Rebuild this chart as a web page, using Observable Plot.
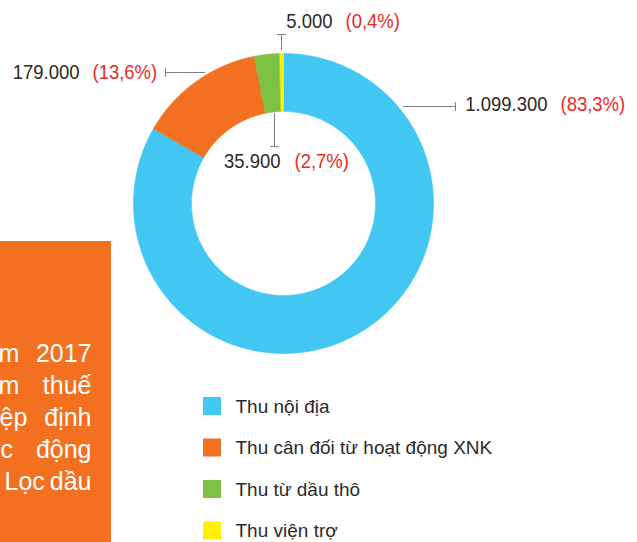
<!DOCTYPE html>
<html>
<head>
<meta charset="utf-8">
<script src="https://cdn.jsdelivr.net/npm/d3@7"></script>
<script src="https://cdn.jsdelivr.net/npm/@observablehq/plot@0.6"></script>
<style>
  html, body { margin: 0; padding: 0; background: #fff; }
  #chart svg { display: block; }
</style>
</head>
<body>
<div id="chart"></div>
<script>
// ---- data ----
const categories = ["Thu nội địa", "Thu cân đối từ hoạt động XNK", "Thu từ dầu thô", "Thu viện trợ"];
const values = [1099300, 179000, 35900, 5000];
const colors = ["#41C7F2", "#F37021", "#7DC142", "#FFF100"];
// side box text (clipped at the left edge of the picture): left fragment + last word of each line
const boxLeft = ["m", "m", "ệp", "c", "Lọc"];
const boxRight = ["2017", "thuế", "định", "động", "dầu"];

// ---- layout ----
const W = 637, H = 542;
const cx = 283, cy = 203, R = 150, r = 92;
const FONT = "'Liberation Sans', Arial, sans-serif";
const DARK = "#2B2A29", RED = "#EE2A24", GRAY = "#7F7F7F";

const total = d3.sum(values);
const fmtNum = v => d3.format(",")(v).replace(/,/g, ".");
const fmtPct = v => "(" + (v * 100).toFixed(1).replace(".", ",") + "%)";

// arcs from d3.pie, clockwise from top
const pie = d3.pie().sort(null).value(d => d.value)(categories.map((c, i) => ({cat: c, value: values[i], color: colors[i]})));
const poly = [];
pie.forEach(p => {
  const n = Math.max(4, Math.ceil((p.endAngle - p.startAngle) / 0.01));
  for (let k = 0; k <= n; k++) {
    const a = p.startAngle + (p.endAngle - p.startAngle) * k / n;
    poly.push({cat: p.data.cat, x: cx + R * Math.sin(a), y: cy - R * Math.cos(a)});
  }
  for (let k = n; k >= 0; k--) {
    const a = p.startAngle + (p.endAngle - p.startAngle) * k / n;
    poly.push({cat: p.data.cat, x: cx + r * Math.sin(a), y: cy - r * Math.cos(a)});
  }
});

// label placement (per category index)
const labelLayout = [
  {i: 0, numEnd: 547, pctStart: 560, base: 110, seg: [[403, 106], [455, 106]], tick: "v2"},
  {i: 1, numEnd: 79, pctStart: 92, base: 78, seg: [[165, 72], [204, 72]], tick: "v1"},
  {i: 2, numEnd: 280, pctStart: 294, base: 167, seg: [[274, 113], [274, 146]], tick: "h2"},
  {i: 3, numEnd: 332, pctStart: 345, base: 27, seg: [[281, 34], [281, 49]], tick: "h1"}
];
const labels = labelLayout.map(l => ({...l, num: fmtNum(values[l.i]), pct: fmtPct(values[l.i] / total)}));
const segs = [];
labels.forEach((l, j) => {
  segs.push({id: "s" + j, x: l.seg[0][0], y: l.seg[0][1]});
  segs.push({id: "s" + j, x: l.seg[1][0], y: l.seg[1][1]});
  const end = l.tick.endsWith("1") ? l.seg[0] : l.seg[1];
  if (l.tick[0] === "v") {
    segs.push({id: "t" + j, x: end[0], y: end[1] - 4});
    segs.push({id: "t" + j, x: end[0], y: end[1] + 4});
  } else {
    segs.push({id: "t" + j, x: end[0] - 4, y: end[1]});
    segs.push({id: "t" + j, x: end[0] + 4, y: end[1]});
  }
});

const legend = categories.map((c, i) => ({cat: c, color: colors[i], i}));
const legTop = 397, legStep = 41.5, sw = 18;

const box = boxRight.map((w, i) => ({left: boxLeft[i], right: w, i}));
const boxLeftX = [-2, -2, -1, 0, 4];
const boxBase0 = 361, boxStep = 32;

const sliceMarks = pie.map(p =>
  Plot.line(poly.filter(d => d.cat === p.data.cat), {x: "x", y: "y", fill: p.data.color, stroke: p.data.color, strokeWidth: 0.6, curve: "linear-closed"})
);

const BOX_FS = 25, LAB_FS = 21, LEG_FS = 19;
const chart = Plot.plot({
  width: W, height: H,
  margin: 0,
  x: {domain: [0, W], range: [0, W], axis: null},
  y: {domain: [0, H], range: [0, H], axis: null},
  style: {fontFamily: FONT, background: "#fff"},
  marks: [
    // orange box
    Plot.rect([{x1: 0, x2: 111, y1: 241, y2: H}], {x1: "x1", x2: "x2", y1: "y1", y2: "y2", fill: "#F37021"}),
    Plot.text(box, {x: d => boxLeftX[d.i], y: d => boxBase0 + d.i * boxStep, text: "left", fill: "#fff", fontSize: BOX_FS, textAnchor: "start", lineAnchor: "bottom"}),
    Plot.text(box, {x: 91, y: d => boxBase0 + d.i * boxStep, text: "right", fill: "#fff", fontSize: BOX_FS, textAnchor: "end", lineAnchor: "bottom"}),
    // donut
    ...sliceMarks,
    // leader lines
    Plot.line(segs, {x: "x", y: "y", z: "id", stroke: GRAY, strokeWidth: 1}),
    // labels
    Plot.text(labels, {x: "numEnd", y: "base", text: "num", fill: DARK, fontSize: LAB_FS, textAnchor: "end", lineAnchor: "bottom"}),
    Plot.text(labels, {x: "pctStart", y: "base", text: "pct", fill: RED, fontSize: LAB_FS, textAnchor: "start", lineAnchor: "bottom"}),
    // legend
    Plot.rect(legend, {x1: 203, x2: 203 + sw, y1: d => legTop + d.i * legStep, y2: d => legTop + d.i * legStep + sw, fill: "color"}),
    Plot.text(legend, {x: 235, y: d => legTop + d.i * legStep + sw / 2, text: "cat", fill: DARK, fontSize: LEG_FS, textAnchor: "start", lineAnchor: "middle"})
  ]
});
document.getElementById("chart").appendChild(chart);

// condensed typeface look for the value labels: compress glyphs horizontally
chart.querySelectorAll(`g[font-size="${LAB_FS}"] text`).forEach(t => {
  const L = t.getComputedTextLength();
  if (L > 0) {
    t.setAttribute("textLength", (L * 0.88).toFixed(2));
    t.setAttribute("lengthAdjust", "spacingAndGlyphs");
  }
});
</script>
</body>
</html>
